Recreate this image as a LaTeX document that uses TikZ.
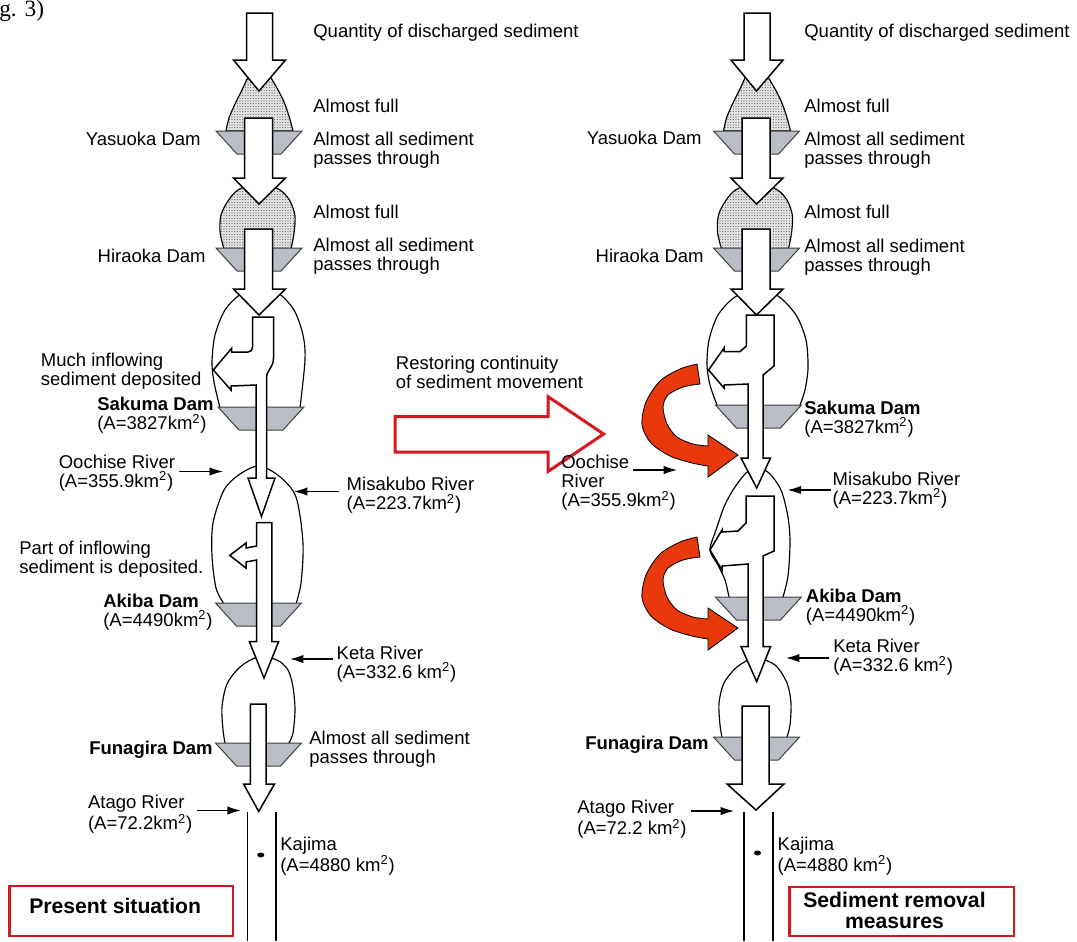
\documentclass[tikz,border=0pt]{standalone}
\usepackage{fontspec}
\setmainfont{Liberation Sans}
\newfontfamily\capfont{Liberation Serif}
\usetikzlibrary{arrows.meta,patterns.meta}
\definecolor{damgray}{RGB}{185,189,197}
\definecolor{boxred}{RGB}{214,24,32}
\definecolor{bendred}{RGB}{232,56,12}

\begin{document}
\begin{tikzpicture}[x=0.6pt,y=-0.6pt,
  lbl/.style={font=\fontsize{11.1}{11.4}\selectfont,inner sep=0pt,align=left},
  big/.style={lbl,font=\bfseries\fontsize{12.7}{12.6}\selectfont},
  flow/.style={draw,fill=white,line width=0.9pt,line join=miter},
  res/.style={draw,line width=0.7pt},
  silt/.style={res,preaction={fill=black!10},pattern={Dots[distance=1.6pt,radius=0.32pt]},pattern color=black!75},
  damwall/.style={draw=black!75,fill=damgray,line width=0.6pt},
  trib/.style={-{Latex[length=8pt,width=5pt]},line width=0.7pt},
  redbend/.style={draw=black,fill=bendred,line width=0.5pt},
  hollow/.style={draw=boxred,fill=white,line width=1.8pt,line join=miter},
  frame/.style={draw=boxred,line width=1.5pt},
  river/.style={line width=0.8pt},
  dam/.pic={\path[damwall] (-43,0) -- (43,0) -- (22,23) -- (-22,23) -- cycle;}]
\useasboundingbox (0,0) rectangle (1077,941);

% reservoirs
\foreach \dx in {0,497.5}{
  \draw[silt,shift={(\dx,0)}] plot[smooth] coordinates {(226,131) (229,118) (235,104) (242,90) (250,74) (259,70) (268,74) (277,88) (284,102) (289,116) (293,131)} -- cycle;
  \draw[silt,shift={(\dx,0)}] plot[smooth] coordinates {(224,249) (220,232) (221,215) (228,201) (238,190) (259,182) (280,190) (290,201) (295,216) (294,233) (291,249)} -- cycle;
}
\draw[res] plot[smooth] coordinates {(220,408) (214,382) (212,362) (215,335) (225,310) (241,294) (259,289) (278,293) (294,310) (303,335) (305,360) (300,408)};
\draw[res] plot[smooth] coordinates {(224,604) (216,588) (212,556) (213,523) (224,490) (240,474) (259,466) (279,476) (296,497) (303,543) (301,583) (296,604)};
\draw[res] plot[smooth] coordinates {(225,743) (223,730) (222,707) (227,684) (240,667) (258,657) (277,660) (288,670) (293,687) (295,710) (293,733) (289,743)};
\draw[res] plot[smooth] coordinates {(717,405) (710,385) (707,365) (709,340) (718,315) (735,297) (757,290) (778,296) (796,315) (806,340) (808,368) (805,390) (800,405)};
\draw[res] plot[smooth] coordinates {(729,597) (725,580) (718,565) (710,550) (716,530) (724,507) (733,490) (746,473) (757,468) (769,473) (781,490) (788,517) (790,543) (788,576) (783,597)};
\draw[res] plot[smooth] coordinates {(722,737) (720,725) (719,703) (724,683) (737,667) (755,658) (775,665) (787,683) (791,703) (790,725) (787,737)};

% dams
\foreach \dx in {0,497.5}{
  \pic at (259+\dx,131) {dam};
  \pic at (259+\dx,248) {dam};
}
\pic at (261,407) {dam};
\pic at (258.5,603) {dam};
\pic at (258.5,743) {dam};
\pic at (758.4,405) {dam};
\pic at (758.4,597) {dam};
\pic at (756.5,737) {dam};

% sediment flow
\foreach \dx in {0,497.5}{
\begin{scope}[shift={(\dx,0)}]
  \draw[flow] (246.5,13) -- (272.5,13) -- (272.5,60) -- (285.5,60) -- (259,91) -- (233.5,60) -- (246.5,60) -- cycle;
  \draw[flow] (244.5,118) -- (272.5,118) -- (272.5,178) -- (285.5,178) -- (259,204) -- (233.5,178) -- (244.5,178) -- cycle;
  \draw[flow] (244.5,229) -- (272.5,229) -- (272.5,289) -- (285.5,289) -- (259,315) -- (233.5,289) -- (244.5,289) -- cycle;
\end{scope}
}
\draw[flow] (252.5,317) -- (273.5,317) -- (273.5,358) .. controls (273.5,368) and (266.5,370) .. (266.5,378) -- (266.5,478) -- (275,478) -- (261.5,516.5) -- (248,478) -- (256,478) -- (256,385) -- (231,386) -- (231,390) -- (213.3,370) -- (231.5,348.5) -- (231.5,352) -- (248,352) .. controls (251,352) and (252.5,350) .. (252.5,347) -- cycle;
\draw[flow] (256.6,522.5) -- (271.8,522.5) -- (271.8,641.7) -- (278.6,641.7) -- (264,678) -- (249.4,641.7) -- (256.6,641.7) -- (256.6,560) -- (246,562) -- (246,568) -- (229.8,555.4) -- (246,543) -- (246,548) -- (256.6,546) -- cycle;
\draw[flow] (250.4,704) -- (266,704) -- (266,784) -- (274.5,784) -- (258.7,811.5) -- (243.6,784) -- (250.4,784) -- cycle;
\draw[flow] (746.4,315) -- (774,315) -- (774,366) -- (763,375) -- (763,458) -- (770.5,458) -- (756.7,488) -- (741,458) -- (748,458) -- (748,384) -- (724,385) -- (724,388) -- (708.6,370) -- (724,348) -- (724,351.5) -- (740,351.5) -- (746.4,346) -- cycle;
\draw[flow] (746,496) -- (774,496) -- (774,551) -- (763,556) -- (763,646.6) -- (770.5,646.6) -- (756.7,681.6) -- (741,646.6) -- (748,646.6) -- (748,564) -- (722,566) -- (722,570) -- (710,550) -- (722,530) -- (722,532) -- (738,531) -- (746,523) -- cycle;
\draw[flow] (742,706) -- (769,706) -- (769,784) -- (784,784) -- (756,810) -- (727,784) -- (742,784) -- cycle;

% removal measures
\foreach \dy in {0,173}{
  \filldraw[redbend,shift={(0,\dy)}] plot[smooth] coordinates {(697,364) (680,369) (660,381) (646,402) (642,425) (651,443) (670,456) (692,463) (708,466)} -- (708,477) -- (738,455) -- (708,435) -- (708,446) -- plot[smooth] coordinates {(708,446) (693,444) (677,437) (667,424) (663,407) (668,395) (683,387) (700,384)} -- cycle;
}
\draw[hollow] (395,416.5) -- (548,416.5) -- (548,396.6) -- (603.6,434) -- (548,471.5) -- (548,452) -- (395,452) -- cycle;

% downstream
\draw[river] (247.7,812) -- (247.7,941) (276,812) -- (276,941);
\draw[river] (744,812) -- (744,941) (773,812) -- (773,941);
\fill (260.8,855) ellipse (3.5 and 2.5);
\fill (757.5,853) ellipse (3.5 and 2.5);

% tributaries
\coordinate (oochiseA) at (179,471.5);  \coordinate (oochiseB) at (223,471.5);
\coordinate (misakuboA) at (339,491.5); \coordinate (misakuboB) at (294,491.5);
\coordinate (ketaA) at (333,659);       \coordinate (ketaB) at (290,659);
\coordinate (atagoA) at (197,810.5);    \coordinate (atagoB) at (240.8,810.5);
\coordinate (oochiseC) at (633,470);    \coordinate (oochiseD) at (677,470);
\coordinate (misakuboC) at (830.7,490); \coordinate (misakuboD) at (787.7,490);
\coordinate (ketaC) at (829,658);       \coordinate (ketaD) at (786,658);
\coordinate (atagoC) at (691,811);      \coordinate (atagoD) at (734,811);
\path[trib] (oochiseA) edge (oochiseB) (misakuboA) edge (misakuboB)
  (ketaA) edge (ketaB) (atagoA) edge (atagoB)
  (oochiseC) edge (oochiseD) (misakuboC) edge (misakuboD)
  (ketaC) edge (ketaD) (atagoC) edge (atagoD);

% labels, present situation
\node[font=\capfont\fontsize{14}{14}\selectfont,anchor=base west,inner sep=0pt] (fig) at (-1,16.5) {g. 3)};
\node[lbl,anchor=west] (qty1) at (313,33) {Quantity of discharged sediment};
\node[lbl,anchor=west] (full1) at (313,105.5) {Almost full};
\node[lbl,anchor=east] (yasuoka1) at (201,139) {Yasuoka Dam};
\node[lbl,anchor=west] (pass1) at (313,150.5) {Almost all sediment\\passes through};
\node[lbl,anchor=west] (full2) at (313,212) {Almost full};
\node[lbl,anchor=east] (hiraoka1) at (206,256) {Hiraoka Dam};
\node[lbl,anchor=west] (pass2) at (313,256.5) {Almost all sediment\\passes through};
\node[lbl,anchor=west] (much) at (40.6,371.5) {Much inflowing\\sediment deposited};
\node[lbl,anchor=west] (sakuma1) at (97,415.5) {\textbf{Sakuma Dam}\\(A=3827km\textsuperscript{2})};
\node[lbl,anchor=west] (oochise1) at (58.5,473) {Oochise River\\(A=355.9km\textsuperscript{2})};
\node[lbl,anchor=west] (misakubo1) at (346.4,495.5) {Misakubo River\\(A=223.7km\textsuperscript{2})};
\node[lbl,anchor=west] (part) at (19,559) {Part of inflowing\\sediment is deposited.};
\node[lbl,anchor=west] (akiba1) at (103,612) {\textbf{Akiba Dam}\\(A=4490km\textsuperscript{2})};
\node[lbl,anchor=west] (keta1) at (336.4,664) {Keta River\\(A=332.6 km\textsuperscript{2})};
\node[lbl,anchor=east] (funagira1) at (213,750) {\textbf{Funagira Dam}};
\node[lbl,anchor=west] (pass3) at (309,749) {Almost all sediment\\passes through};
\node[lbl,anchor=west] (atago1) at (87.7,814.5) {Atago River\\(A=72.2km\textsuperscript{2})};
\node[lbl,anchor=west] (kajima1) at (280,856) {Kajima\\(A=4880 km\textsuperscript{2})};
\draw[frame] (9.3,886) rectangle (233,936);
\node[big,anchor=west] (present) at (29,906) {Present situation};

% labels, measures
\node[lbl,anchor=west] (restore) at (395.6,372) {Restoring continuity\\of sediment movement};
\node[lbl,anchor=west] (qty2) at (804,33) {Quantity of discharged sediment};
\node[lbl,anchor=west] (full3) at (804,106) {Almost full};
\node[lbl,anchor=east] (yasuoka2) at (702,138) {Yasuoka Dam};
\node[lbl,anchor=west] (pass4) at (804,150) {Almost all sediment\\passes through};
\node[lbl,anchor=west] (full4) at (804,212) {Almost full};
\node[lbl,anchor=east] (hiraoka2) at (704,256) {Hiraoka Dam};
\node[lbl,anchor=west] (pass5) at (804,257) {Almost all sediment\\passes through};
\node[lbl,anchor=west] (sakuma2) at (804,419) {\textbf{Sakuma Dam}\\(A=3827km\textsuperscript{2})};
\node[lbl,anchor=west] (oochise2) at (561,483) {Oochise\\River\\(A=355.9km\textsuperscript{2})};
\node[lbl,anchor=west] (misakubo2) at (832.4,490) {Misakubo River\\(A=223.7km\textsuperscript{2})};
\node[lbl,anchor=west] (akiba2) at (805.6,607) {\textbf{Akiba Dam}\\(A=4490km\textsuperscript{2})};
\node[lbl,anchor=west] (keta2) at (833,657.5) {Keta River\\(A=332.6 km\textsuperscript{2})};
\node[lbl,anchor=east] (funagira2) at (709,745) {\textbf{Funagira Dam}};
\node[lbl,anchor=west] (atago2) at (577,819.5) {Atago River\\(A=72.2 km\textsuperscript{2})};
\node[lbl,anchor=west] (kajima2) at (777.4,856) {Kajima\\(A=4880 km\textsuperscript{2})};
\draw[frame] (789.4,887) rectangle (1014,936);
\node[big,align=center] (removal) at (894.5,910.5) {Sediment removal\\measures};
\end{tikzpicture}
\end{document}
